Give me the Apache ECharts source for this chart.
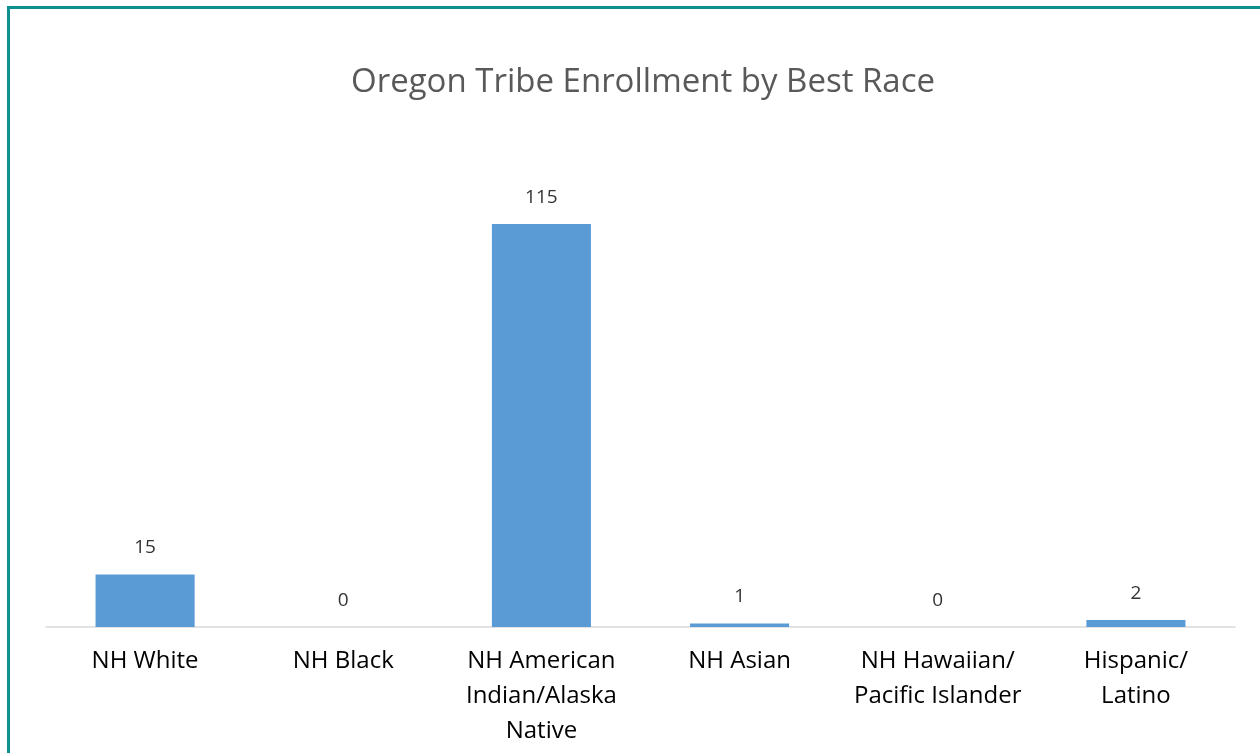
<!DOCTYPE html>
<html>
<head>
<meta charset="utf-8">
<script src="https://cdn.jsdelivr.net/npm/echarts@6/dist/echarts.min.js"></script>
<style>
  html, body { margin: 0; padding: 0; background: #fff; overflow: hidden; }
  #frame { position: absolute; left: 7px; top: 6px; width: 1300px; height: 800px; border: 3px solid #0e9090; box-sizing: border-box; }
  #chart { position: absolute; left: 0; top: 0; width: 1260px; height: 753px; }
</style>
</head>
<body>
<div id="frame"></div>
<div id="chart"></div>
<script>
const categories = ['NH White', 'NH Black', 'NH American\nIndian/Alaska\nNative', 'NH Asian', 'NH Hawaiian/\nPacific Islander', 'Hispanic/\nLatino'];
const enrollment = [15, 0, 115, 1, 0, 2];

const chart = echarts.init(document.getElementById('chart'));
chart.setOption({
  animation: false,
  title: {
    text: 'Oregon Tribe Enrollment by Best Race',
    left: 346,
    top: 61,
    textStyle: { fontFamily: 'Open Sans', fontSize: 33, fontWeight: 'normal', color: '#595959' }
  },
  grid: { left: 46, right: 25, top: 224, bottom: 126, containLabel: false },
  xAxis: {
    type: 'category',
    data: categories,
    axisLine: { lineStyle: { color: '#d9d9d9', width: 1.5 } },
    axisTick: { show: false },
    axisLabel: {
      interval: 0,
      margin: 17,
      fontFamily: 'Open Sans',
      fontSize: 24,
      lineHeight: 35,
      color: '#000'
    }
  },
  yAxis: {
    type: 'value',
    min: 0,
    max: 115,
    show: false,
    splitLine: { show: false }
  },
  series: [{
    type: 'bar',
    data: enrollment,
    barWidth: '50%',
    itemStyle: { color: '#5b9bd5' },
    label: {
      show: true,
      position: 'top',
      distance: 17,
      fontFamily: 'Open Sans',
      fontSize: 19,
      color: '#333'
    }
  }]
});
</script>
</body>
</html>
